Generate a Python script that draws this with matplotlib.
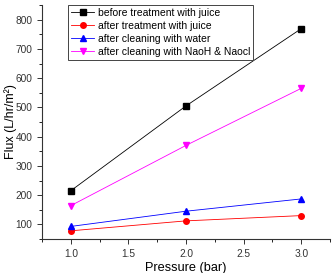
import matplotlib
matplotlib.use("Agg")
import matplotlib.pyplot as plt
from matplotlib.ticker import MultipleLocator

plt.rcParams['font.family'] = ['Liberation Sans', 'DejaVu Sans']

pressure = [1.0, 2.0, 3.0]
before_juice = [215, 505, 769]
after_juice = [78, 112, 130]
after_water = [93, 145, 187]
after_naoh = [164, 370, 565]

labels = ["before treatment with juice", "after treatment with juice",
          "after cleaning with water", "after cleaning with NaoH & Naocl"]

fig = plt.figure(figsize=(3.33, 2.73), dpi=100)
ax = fig.add_axes([42/333, 1-239/273, (330-42)/333, (239-5)/273])

ax.plot(pressure, before_juice, color='black', marker='s', ms=4, lw=0.6, label=labels[0])
ax.plot(pressure, after_juice, color='red', marker='o', ms=4, lw=0.6, label=labels[1])
ax.plot(pressure, after_water, color='blue', marker='^', ms=4.5, lw=0.6, label=labels[2])
ax.plot(pressure, after_naoh, color='magenta', marker='v', ms=4.5, lw=0.6, label=labels[3])

ax.set_xlim(0.75, 3.25)
ax.set_ylim(50, 850)
ax.xaxis.set_minor_locator(MultipleLocator(0.25))
ax.yaxis.set_minor_locator(MultipleLocator(50))
ax.set_yticks([100, 200, 300, 400, 500, 600, 700, 800])
ax.set_xticks([1.0, 1.5, 2.0, 2.5, 3.0])
ax.set_xticklabels(['1.0', '1.5', '2.0', '2.5', '3.0'])

for s in ['top', 'right']:
    ax.spines[s].set_visible(False)
for s in ['left', 'bottom']:
    ax.spines[s].set_linewidth(0.8)
    ax.spines[s].set_color('#333333')

ax.tick_params(which='major', direction='out', length=3.5, width=0.7, labelsize=7.3, colors='#333333')
ax.tick_params(which='minor', direction='out', length=2, width=0.6)

ax.set_xlabel('Pressure (bar)', fontsize=9.2, labelpad=2)
ax.set_ylabel('Flux (L/hr/m²)', fontsize=9)
ax.yaxis.set_label_coords(-0.087, 0.5)

leg = ax.legend(loc='upper left', bbox_to_anchor=(0.092, 1.0), fontsize=7.5, frameon=True,
                fancybox=False, edgecolor='#444444', framealpha=1, borderpad=0.25,
                labelspacing=0.3, handlelength=2.2, handletextpad=0.4, borderaxespad=0)
leg.get_frame().set_linewidth(0.7)

fig.savefig('out.png', dpi=100)
